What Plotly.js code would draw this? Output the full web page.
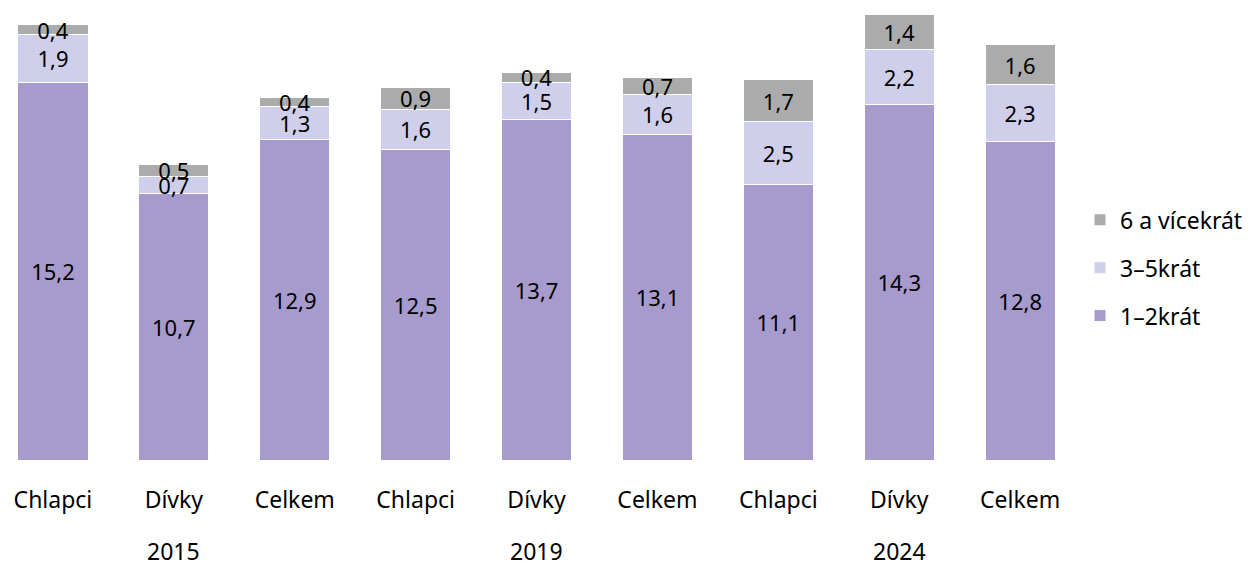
<!DOCTYPE html>
<html><head><meta charset="utf-8">
<script src="https://cdn.plot.ly/plotly-3.0.1.min.js"></script>
<style>html,body{margin:0;padding:0;background:#fff}</style>
</head><body>
<div id="chart" style="width:1251px;height:563px"></div>
<script>
const years = ["2015","2015","2015","2019","2019","2019","2024","2024","2024"];
const groups = ["Chlapci","Dívky","Celkem","Chlapci","Dívky","Celkem","Chlapci","Dívky","Celkem"];
const yearLabels = ["2015","2019","2024"];
const s12 = [15.2,10.7,12.9,12.5,13.7,13.1,11.1,14.3,12.8];
const s35 = [1.9,0.7,1.3,1.6,1.5,1.6,2.5,2.2,2.3];
const s6 = [0.4,0.5,0.4,0.9,0.4,0.7,1.7,1.4,1.6];
const names = ["1–2krát","3–5krát","6 a vícekrát"];
const colors = ["#A79BCD","#CFCFEB","#ABABAB"];

const font = "Noto Sans, Open Sans, sans-serif";
const cats = groups.map((g,i)=>years[i]+" "+g);
const xr = [-0.438, 8.495];
// centre index of each year's group of categories
const yearPos = yearLabels.map(y=>{
  const idx = years.map((v,i)=>v===y?i:-1).filter(i=>i>=0);
  return idx.reduce((a,b)=>a+b,0)/idx.length;
});

const traces = [s12,s35,s6].map((v,i)=>({
  type:"bar", x:cats, y:v, name:names[i], legendgroup:"g"+i, legendrank:3-i,
  marker:{color:colors[i], line:{color:"#fff", width:1}},
  texttemplate:"%{y:.1f}", textposition:"inside", insidetextanchor:"middle",
  textangle:0, constraintext:"none", cliponaxis:false,
  textfont:{color:"#000", size:22, family:font},
  hoverinfo:"skip"
}));

const annotations = yearLabels.map((t,i)=>({
  text:t, x:yearPos[i], xref:"x", y:0, yref:"paper",
  yanchor:"top", xanchor:"center", yshift:-74, borderpad:0, showarrow:false,
  font:{size:23, color:"#000", family:font}
}));

const layout = {
  barmode:"stack", bargap:0.42,
  separators:", ",
  width:1251, height:563,
  margin:{l:0, r:171, t:10, b:103},
  paper_bgcolor:"#fff", plot_bgcolor:"#fff",
  font:{family:font, size:23, color:"#000"},
  xaxis:{type:"category", tickmode:"array", tickvals:cats, ticktext:groups,
         showgrid:false, zeroline:false, showline:false, ticks:"",
         tickfont:{size:23, color:"#000"}, ticklabelstandoff:24,
         range:xr, automargin:false},
  yaxis:{visible:false, range:[0,18.1], showgrid:false, zeroline:false},
  legend:{x:1.0, xanchor:"left", y:0.427, yanchor:"middle",
          traceorder:"grouped", tracegroupgap:15,
          font:{size:23, color:"#000"}, itemwidth:30},
  annotations:annotations,
  showlegend:true
};
Plotly.newPlot("chart", traces, layout, {displayModeBar:false, staticPlot:true});
</script>
</body></html>
